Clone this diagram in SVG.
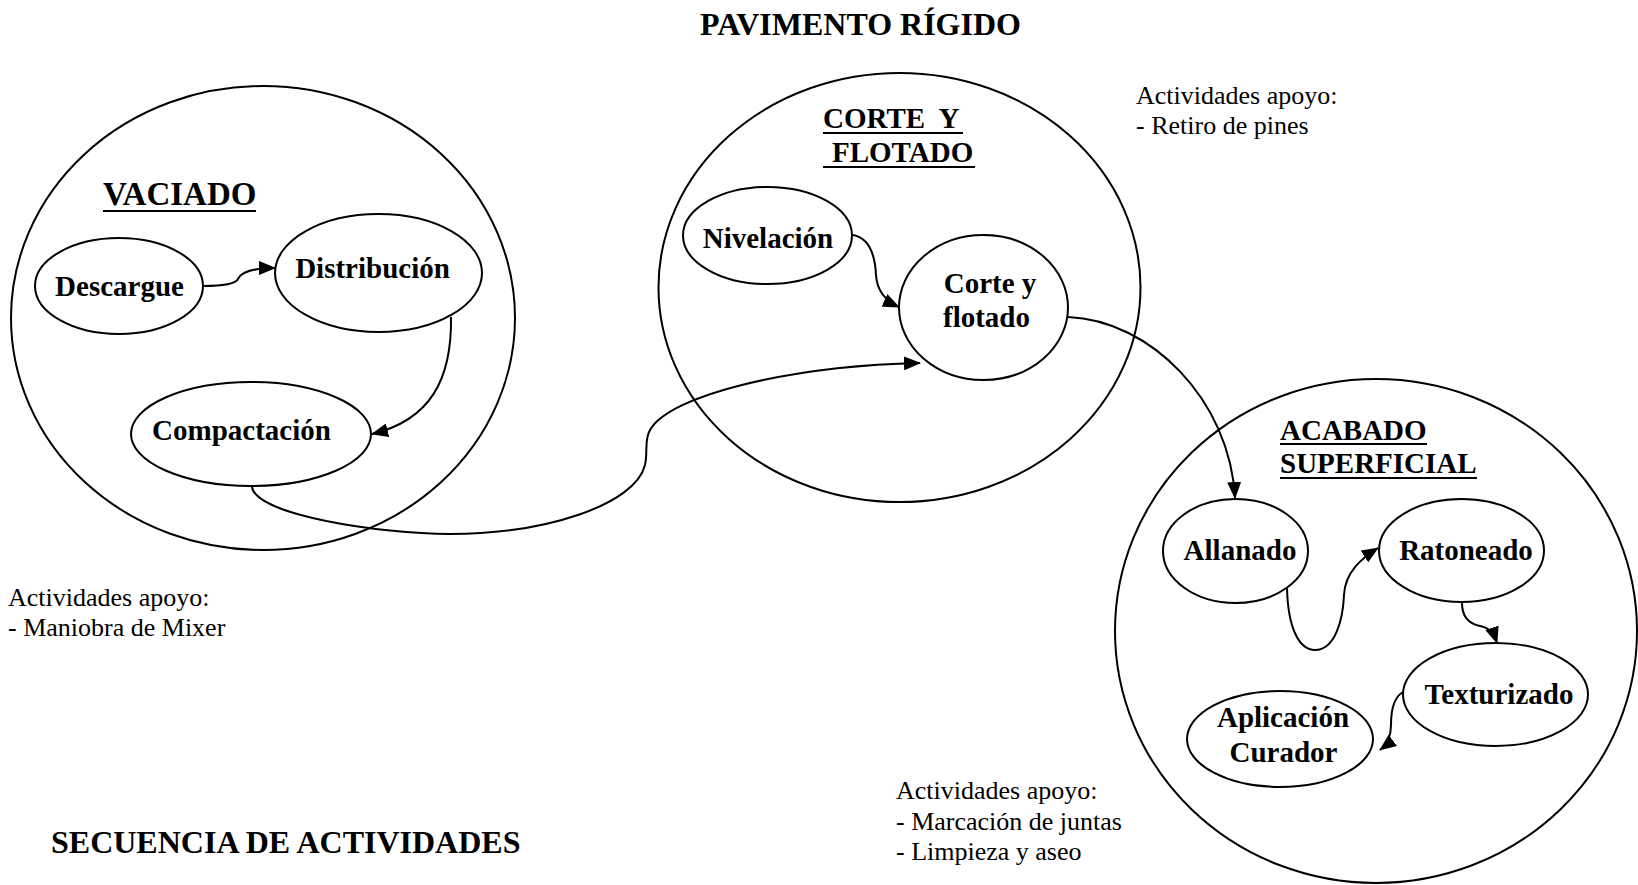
<svg xmlns="http://www.w3.org/2000/svg" width="1638" height="885" viewBox="0 0 1638 885">
<style>
.big{fill:none;stroke:#000;stroke-width:2}
.node{fill:#fff;stroke:#000;stroke-width:2}
.lbl{font-family:"Liberation Serif","Times New Roman",serif;font-weight:bold;font-size:29px;fill:#000;text-anchor:middle}
.ttl{font-family:"Liberation Serif","Times New Roman",serif;font-weight:bold;font-size:29px;fill:#000}
.hd{font-family:"Liberation Serif","Times New Roman",serif;font-weight:bold;font-size:32px;fill:#000}
.note{font-family:"Liberation Serif","Times New Roman",serif;font-size:26px;fill:#000}
.ul{stroke:#000;stroke-width:2}
.con{fill:none;stroke:#000;stroke-width:2;marker-end:url(#ah)}
</style>
<defs>
<marker id="ah" viewBox="0 0 17 14" refX="16" refY="7" markerWidth="17" markerHeight="14" markerUnits="userSpaceOnUse" orient="auto">
<path d="M0,0 L17,7 L0,14 z" fill="#000"/>
</marker>
</defs>
<rect width="1638" height="885" fill="#fff"/>

<text class="hd" x="700" y="35">PAVIMENTO RÍGIDO</text>
<text class="hd" x="51" y="853">SECUENCIA DE ACTIVIDADES</text>

<g id="vaciado">
<ellipse class="big" cx="263" cy="318" rx="252" ry="232"/>
<text class="ttl" x="103" y="205" style="font-size:33px">VACIADO</text>
<line class="ul" x1="103" y1="211" x2="256" y2="211"/>
</g>
<g id="corte-flotado-grupo">
<ellipse class="big" cx="899.5" cy="287.5" rx="241" ry="214.5"/>
<text class="ttl" x="823" y="128" xml:space="preserve">CORTE  Y</text>
<line class="ul" x1="823" y1="133" x2="963" y2="133"/>
<text class="ttl" x="832" y="162">FLOTADO</text>
<line class="ul" x1="823" y1="167" x2="975" y2="167"/>
</g>
<g id="acabado">
<ellipse class="big" cx="1376" cy="631" rx="261" ry="252"/>
<text class="ttl" x="1280" y="440">ACABADO</text>
<line class="ul" x1="1280" y1="444" x2="1427" y2="444"/>
<text class="ttl" x="1280" y="473">SUPERFICIAL</text>
<line class="ul" x1="1280" y1="478" x2="1477" y2="478"/>
</g>

<g id="connectors">
<path class="con" d="M203,286 C225,286 236,283 238,279 C241,272 255,268 275,268"/>
<path class="con" d="M451,317 C452,380 430,420 372,434"/>
<path class="con" d="M252,487 C256,515 380,534 450,534 C545,534 635,505 645,465 C648,452 644,440 650,430 C670,395 790,366 920,363"/>
<path class="con" d="M853,235 C870,238 875,255 876,275 C877,292 888,302 899,307"/>
<path class="con" d="M1068,317 C1150,320 1230,400 1235,498"/>
<path class="con" d="M1287,588 C1288,630 1300,650 1315,650 C1335,650 1343,620 1344,595 C1345,572 1362,558 1378,548"/>
<path class="con" d="M1462,603 C1462,618 1470,624 1480,626 C1490,628 1494,634 1497,643"/>
<path class="con" d="M1403,692 C1394,697 1391,710 1391,725 C1391,735 1388,744 1380,750"/>
</g>

<g id="descargue">
<ellipse class="node" cx="119" cy="286" rx="84" ry="48"/>
<text class="lbl" x="119.5" y="296">Descargue</text>
</g>
<g id="distribucion">
<ellipse class="node" cx="378.5" cy="273" rx="103.5" ry="59"/>
<text class="lbl" x="372.5" y="278">Distribución</text>
</g>
<g id="compactacion">
<ellipse class="node" cx="251" cy="434" rx="120" ry="52"/>
<text class="lbl" x="241.5" y="440">Compactación</text>
</g>
<g id="nivelacion">
<ellipse class="node" cx="767.5" cy="235.5" rx="84.5" ry="48.5"/>
<text class="lbl" x="768" y="248">Nivelación</text>
</g>
<g id="corte-y-flotado">
<ellipse class="node" cx="983.5" cy="307.5" rx="84.5" ry="72.5"/>
<text class="lbl" x="990" y="293">Corte y</text>
<text class="lbl" x="986.5" y="327">flotado</text>
</g>
<g id="allanado">
<ellipse class="node" cx="1235.5" cy="551" rx="72.5" ry="52"/>
<text class="lbl" x="1240" y="560">Allanado</text>
</g>
<g id="ratoneado">
<ellipse class="node" cx="1461.5" cy="550.5" rx="82.5" ry="51.5"/>
<text class="lbl" x="1466" y="560">Ratoneado</text>
</g>
<g id="texturizado">
<ellipse class="node" cx="1495.5" cy="694.5" rx="92.5" ry="51.5"/>
<text class="lbl" x="1499" y="704">Texturizado</text>
</g>
<g id="aplicacion-curador">
<ellipse class="node" cx="1280" cy="739" rx="93" ry="48"/>
<text class="lbl" x="1283" y="727">Aplicación</text>
<text class="lbl" x="1283.5" y="762">Curador</text>
</g>

<g id="apoyo-vaciado">
<text class="note" x="8" y="606">Actividades apoyo:</text>
<text class="note" x="8" y="636">- Maniobra de Mixer</text>
</g>
<g id="apoyo-corte">
<text class="note" x="1136" y="104">Actividades apoyo:</text>
<text class="note" x="1136" y="134">- Retiro de pines</text>
</g>
<g id="apoyo-acabado">
<text class="note" x="896" y="799">Actividades apoyo:</text>
<text class="note" x="896" y="830">- Marcación de juntas</text>
<text class="note" x="896" y="860">- Limpieza y aseo</text>
</g>
</svg>
